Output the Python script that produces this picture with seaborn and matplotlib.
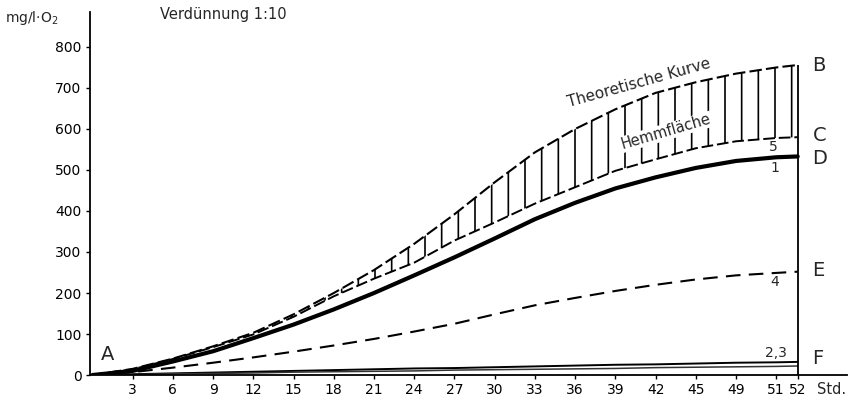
import numpy as np
import seaborn as sns
import matplotlib.pyplot as plt

# Stunden (Position auf der Achse; letzter Punkt = 52 Std.)
hours = [0, 3, 6, 9, 12, 15, 18, 21, 24, 27, 30, 33, 36, 39, 42, 45, 48, 51, 52.6]

# mg/l O2
curve_b = [0, 15, 40, 70, 103, 148, 200, 256, 320, 392, 470, 543, 600, 648, 688, 714, 735, 750, 756]
curve_c = [0, 14, 39, 68, 99, 142, 192, 235, 274, 328, 372, 418, 458, 498, 526, 553, 570, 578, 580]
curve_d = [0, 10, 33, 58, 90, 123, 160, 200, 243, 287, 333, 380, 420, 455, 482, 505, 522, 531, 533]
curve_e = [0, 7, 18, 30, 43, 57, 72, 88, 106, 125, 148, 170, 188, 205, 220, 233, 243, 249, 252]
curve_f2 = [0, 2, 4, 6, 8, 10, 12, 14, 16, 17, 19, 21, 23, 25, 26, 28, 30, 31, 32]
curve_f3 = [0, 1, 3, 4, 5, 7, 8, 9, 10, 12, 13, 14, 15, 16, 18, 19, 20, 21, 22]

tick_pos = [3, 6, 9, 12, 15, 18, 21, 24, 27, 30, 33, 36, 39, 42, 45, 48, 51, 52.6]
tick_labels = ['3', '6', '9', '12', '15', '18', '21', '24', '27', '30', '33',
               '36', '39', '42', '45', '49', '51', '52']
y_ticks = [0, 100, 200, 300, 400, 500, 600, 700, 800]

sns.set_style('ticks')
plt.rcParams['font.family'] = ['DejaVu Sans']
plt.rcParams['hatch.linewidth'] = 1.2

fig = plt.figure(figsize=(8.55, 4.01), dpi=100)
ax = fig.add_axes([0.105, 0.0648, 0.886, 0.905])

# Hemmfläche zwischen theoretischer Kurve und Kurve 5
hours_arr = np.array(hours)
ax.fill_between(hours, curve_c, curve_b, where=hours_arr >= 12, facecolor='none',
                edgecolor='black', hatch='|', linewidth=0)

sns.lineplot(x=hours, y=curve_b, ax=ax, color='black', linewidth=1.5,
             linestyle=(0, (6, 2)))
sns.lineplot(x=hours, y=curve_c, ax=ax, color='black', linewidth=1.4,
             linestyle=(0, (6, 2)))
sns.lineplot(x=hours, y=curve_d, ax=ax, color='black', linewidth=3.0)
sns.lineplot(x=hours, y=curve_e, ax=ax, color='black', linewidth=1.5,
             linestyle=(0, (7, 4)))
sns.lineplot(x=hours, y=curve_f2, ax=ax, color='black', linewidth=1.4)
sns.lineplot(x=hours, y=curve_f3, ax=ax, color='#333333', linewidth=1.1)

# Endlinie bei 52 Std.
ax.vlines(hours[-1], 0, curve_b[-1], color='black', linewidth=1.3)

ax.set_xlim(-0.2, 56.3)
ax.set_ylim(0, 885)
ax.set_xticks(tick_pos)
ax.set_xticklabels(tick_labels)
ax.set_yticks(y_ticks)
ax.tick_params(axis='both', direction='out', length=3, width=1, labelsize=10,
               colors='black', pad=3)
for side in ['top', 'right']:
    ax.spines[side].set_visible(False)
for side in ['left', 'bottom']:
    ax.spines[side].set_linewidth(1.3)
    ax.spines[side].set_color('black')
ax.set_xlabel('')
ax.set_ylabel('')

# Kurvenbezeichnungen
letters = {'A': (1.1, 51), 'B': (53.7, 754), 'C': (53.7, 583), 'D': (53.7, 529),
           'E': (53.7, 256), 'F': (53.7, 41)}
for name, (lx, ly) in letters.items():
    ax.text(lx, ly, name, fontsize=14, ha='left' if name != 'A' else 'center',
            va='center')

numbers = {'5': (50.8, 556), '1': (50.9, 505), '4': (50.9, 227), '2,3': (51.0, 54)}
for name, (lx, ly) in numbers.items():
    ax.text(lx, ly, name, fontsize=10, ha='center', va='center')

ax.text(40.8, 712, 'Theoretische Kurve', fontsize=11, rotation=15.5,
        rotation_mode='anchor', ha='center', va='center')
ax.text(42.8, 593, 'Hemmfläche', fontsize=10.5, rotation=16.4,
        rotation_mode='anchor', ha='center', va='center',
        bbox=dict(facecolor='white', edgecolor='none', pad=0.5))

ax.text(55.1, -0.0386, 'Std.', fontsize=10.5, ha='center', va='center',
        transform=ax.get_xaxis_transform())
fig.text(0.006, 1 - 18 / 401, 'mg/l·O$_2$', fontsize=10, ha='left', va='center')
fig.text(160 / 855, 1 - 15 / 401, 'Verdünnung 1:10', fontsize=10.5, ha='left',
         va='center')

fig.savefig('out.png', dpi=100)
